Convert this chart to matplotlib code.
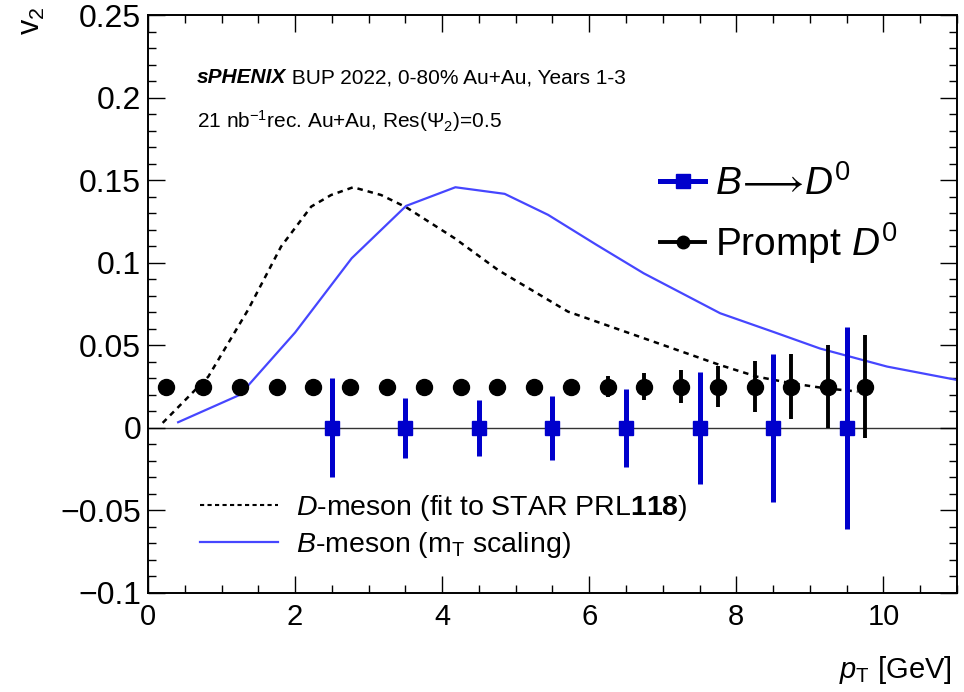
import matplotlib
matplotlib.use("Agg")
import matplotlib.pyplot as plt
from matplotlib.lines import Line2D
from matplotlib.ticker import MultipleLocator

plt.rcParams['font.family'] = ['Liberation Sans', 'DejaVu Sans']
plt.rcParams['mathtext.fontset'] = 'custom'
plt.rcParams['mathtext.rm'] = 'Liberation Sans'
plt.rcParams['mathtext.it'] = 'Liberation Sans:italic'
plt.rcParams['mathtext.bf'] = 'Liberation Sans:bold'

# prompt D0 projection
prompt_pt = [0.25, 0.75, 1.25, 1.75, 2.25, 2.75, 3.25, 3.75, 4.25, 4.75,
             5.25, 5.75, 6.25, 6.75, 7.25, 7.75, 8.25, 8.75, 9.25, 9.75]
prompt_v2 = [0.025, 0.025, 0.025, 0.025, 0.025, 0.025, 0.025, 0.025, 0.025, 0.025,
             0.025, 0.025, 0.025, 0.025, 0.025, 0.025, 0.025, 0.025, 0.025, 0.025]
prompt_err = [0.0, 0.0, 0.0, 0.0, 0.0, 0.0, 0.0, 0.0, 0.001, 0.001,
              0.002, 0.004, 0.0066, 0.008, 0.010, 0.0123, 0.0157, 0.0197, 0.0252, 0.031]

# B -> D0 projection
bd_pt = [2.5, 3.5, 4.5, 5.5, 6.5, 7.5, 8.5, 9.5]
bd_v2 = [0.0, 0.0, 0.0, 0.0, 0.0, 0.0, 0.0, 0.0]
bd_err = [0.030, 0.018, 0.017, 0.0195, 0.0237, 0.034, 0.045, 0.061]

# D-meson fit to STAR
dfit_pt = [0.20, 0.82, 1.36, 1.81, 2.22, 2.49, 2.79, 3.17, 3.51, 4.17, 4.76,
           5.06, 5.71, 6.42, 7.78, 8.28, 8.75, 9.2, 9.65]
dfit_v2 = [0.003, 0.031, 0.0714, 0.1098, 0.134, 0.141, 0.1457, 0.141, 0.1336,
           0.1148, 0.0956, 0.0876, 0.0704, 0.0593, 0.038, 0.031, 0.027, 0.024, 0.022]

# B-meson mT scaling
bmes_pt = [0.41, 1.25, 2.0, 2.77, 3.51, 4.18, 4.85, 5.44, 6.1, 6.74, 7.78,
           8.51, 9.14, 10.05, 11.0]
bmes_v2 = [0.0034, 0.020, 0.0577, 0.1027, 0.1344, 0.1457, 0.1417, 0.129, 0.1108,
           0.0936, 0.0694, 0.058, 0.048, 0.0371, 0.029]

blue = '#0000cc'
lblue = '#4646ff'

fig = plt.figure(figsize=(9.64, 6.92), dpi=100)
ax = fig.add_axes([0.1535, 0.1431, 0.8392, 0.8352])

ax.axhline(0, color='#333333', lw=1.0, zorder=1)
ax.plot(dfit_pt, dfit_v2, color='black', lw=1.8, dashes=(2.2, 2.0), zorder=2)
ax.plot(bmes_pt, bmes_v2, color=lblue, lw=1.6, zorder=2)

ax.errorbar(prompt_pt, prompt_v2, yerr=prompt_err, fmt='o', color='black',
            ms=11.5, elinewidth=2.8, capsize=0, zorder=3)
ax.errorbar(bd_pt, bd_v2, yerr=bd_err, fmt='s', color=blue,
            ms=10.5, elinewidth=3.6, capsize=0, zorder=4)

ax.set_xlim(0, 11)
ax.set_ylim(-0.1, 0.25)
ax.xaxis.set_major_locator(MultipleLocator(2))
ax.xaxis.set_minor_locator(MultipleLocator(0.5))
ax.yaxis.set_major_locator(MultipleLocator(0.05))
ax.yaxis.set_minor_locator(MultipleLocator(0.01))
ax.tick_params(which='both', direction='in', top=True, right=True, width=1.0)
ax.tick_params(which='major', length=12)
ax.tick_params(which='minor', length=6)
ax.tick_params(axis='y', labelsize=23, pad=5)
ax.tick_params(axis='x', labelsize=21, pad=7)
ax.set_yticks([-0.1, -0.05, 0, 0.05, 0.1, 0.15, 0.2, 0.25])
ax.set_yticklabels(['\u22120.1', '\u22120.05', '0', '0.05', '0.1', '0.15', '0.2', '0.25'])
ax.set_xticks([0, 2, 4, 6, 8, 10])
ax.set_xticklabels(['0', '2', '4', '6', '8', '10'])
for s in ax.spines.values():
    s.set_linewidth(1.4)

fig.text(0.033, 0.99, r'v$_2$', rotation=90, ha='center', va='top', fontsize=22)
fig.text(0.987, 0.008, r'$p_{\mathrm{T}}$ [GeV]', ha='right', va='bottom', fontsize=21)

t1 = ax.text(0.06, 0.882, 'sPHENIX', transform=ax.transAxes, fontsize=15,
             fontweight='bold', fontstyle='italic', va='baseline')
ax.annotate(' BUP 2022, 0-80% Au+Au, Years 1-3', xy=(1, 0), xycoords=t1,
            fontsize=15, va='bottom')
ax.text(0.06, 0.804, r'21 nb$^{-1}$rec. Au+Au, Res($\Psi_2$)=0.5',
        transform=ax.transAxes, fontsize=15, va='baseline')

h1 = [Line2D([], [], color=blue, lw=3.6, marker='s', ms=10.5),
      Line2D([], [], color='black', lw=2.8, marker='o', ms=9)]
leg1 = ax.legend(h1, [r'$B\!\longrightarrow\!D^{0}$', r'Prompt $D^{0}$'],
                 loc='center left', bbox_to_anchor=(0.633, 0.653),
                 frameon=False, fontsize=28, handlelength=1.16,
                 handletextpad=0.26, labelspacing=0.45, borderpad=0,
                 borderaxespad=0)
ax.add_artist(leg1)

h2 = [Line2D([], [], color='black', lw=1.5, dashes=(2.0, 1.6)),
      Line2D([], [], color=lblue, lw=1.6)]
ax.legend(h2, [r'$D$-meson (fit to STAR PRL$\mathbf{118}$)',
               r'$B$-meson (m$_{\mathrm{T}}$ scaling)'],
          loc='center left', bbox_to_anchor=(0.064, 0.115),
          frameon=False, fontsize=20.5, handlelength=2.74,
          handletextpad=0.63, labelspacing=0.25, borderpad=0,
          borderaxespad=0)

fig.savefig('out.png', dpi=100)
